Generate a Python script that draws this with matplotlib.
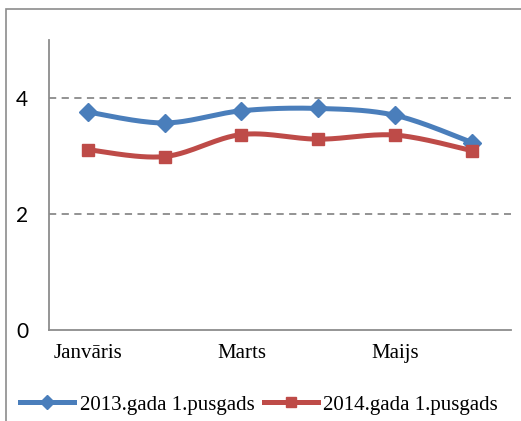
import numpy as np
import matplotlib
matplotlib.use("Agg")
import matplotlib.pyplot as plt
from matplotlib.patches import Rectangle

# Dati
menesi = ["Janvāris", "Februāris", "Marts", "Aprīlis", "Maijs", "Jūnijs"]
redzamie = ["Janvāris", "", "Marts", "", "Maijs", ""]
v2013 = [3.76, 3.57, 3.78, 3.82, 3.70, 3.23]
v2014 = [3.11, 2.99, 3.37, 3.29, 3.36, 3.09]
nosaukumi = ["2013.gada 1.pusgads", "2014.gada 1.pusgads"]

zils = "#4A7EBB"
sarkans = "#BE4B48"


def gluda_linija(x, y, n=30):
    # Catmull-Rom -> Bezier (kā Excel "smoothed line")
    x = np.asarray(x, float)
    y = np.asarray(y, float)
    px = np.concatenate([[x[0]], x, [x[-1]]])
    py = np.concatenate([[y[0]], y, [y[-1]]])
    xs, ys = [], []
    t = np.linspace(0, 1, n)
    for i in range(1, len(px) - 2):
        p0 = np.array([px[i], py[i]])
        p3 = np.array([px[i + 1], py[i + 1]])
        p1 = p0 + (np.array([px[i + 1], py[i + 1]]) - np.array([px[i - 1], py[i - 1]])) / 6
        p2 = p3 - (np.array([px[i + 2], py[i + 2]]) - np.array([px[i], py[i]])) / 6
        b = ((1 - t) ** 3)[:, None] * p0 + (3 * (1 - t) ** 2 * t)[:, None] * p1 \
            + (3 * (1 - t) * t ** 2)[:, None] * p2 + (t ** 3)[:, None] * p3
        xs.extend(b[:, 0])
        ys.extend(b[:, 1])
    return xs, ys


fig = plt.figure(figsize=(5.21, 4.21), dpi=100)
ax = fig.add_axes([49 / 521, 1 - 330 / 421, (511 - 49) / 521, (330 - 40) / 421])

# rāmis ap visu attēlu
fig.patches.append(Rectangle((6 / 521, -0.1), 1.2, 1 - 9 / 421 + 0.1,
                             transform=fig.transFigure, fill=False,
                             edgecolor="#8c8c8c", linewidth=1.2))

x = np.arange(len(menesi))
for vals, krasa, marker, ms, nos in [(v2013, zils, "D", 9, nosaukumi[0]),
                                     (v2014, sarkans, "s", 9, nosaukumi[1])]:
    gx, gy = gluda_linija(x, vals)
    ax.plot(gx, gy, color=krasa, linewidth=3.6, solid_capstyle="round", zorder=3)
    ax.plot(x, vals, linestyle="none", marker=marker, markersize=ms,
            color=krasa, zorder=4)
    ax.plot([], [], color=krasa, linewidth=3.6, marker=marker, markersize=ms - 2,
            label=nos)

ax.set_xlim(-0.5, len(menesi) - 0.5)
ax.set_ylim(0, 5)
ax.set_yticks([0, 2, 4])
ax.set_xticks(x)
ax.set_xticklabels(redzamie, fontfamily="Liberation Serif", fontsize=15)
for lbl in ax.get_yticklabels():
    lbl.set_fontfamily("Lato")
    lbl.set_fontsize(15)
ax.tick_params(axis="both", length=0)
ax.tick_params(axis="y", pad=15)
ax.tick_params(axis="x", pad=10)

for yv in [2, 4]:
    ax.axhline(yv, color="#8a8a8a", linestyle=(0, (4, 3)), linewidth=1.3, zorder=1)

for s in ["top", "right"]:
    ax.spines[s].set_visible(False)
for s in ["left", "bottom"]:
    ax.spines[s].set_color("#8c8c8c")
    ax.spines[s].set_linewidth(1.3)

fig.legend(loc="center", bbox_to_anchor=(259 / 521, 1 - 405 / 421), ncol=2,
           frameon=False, prop={"family": "Liberation Serif", "size": 15},
           handlelength=2.6, handletextpad=0.25, columnspacing=0.45,
           borderpad=0, borderaxespad=0)

fig.savefig("out.png", dpi=100)
